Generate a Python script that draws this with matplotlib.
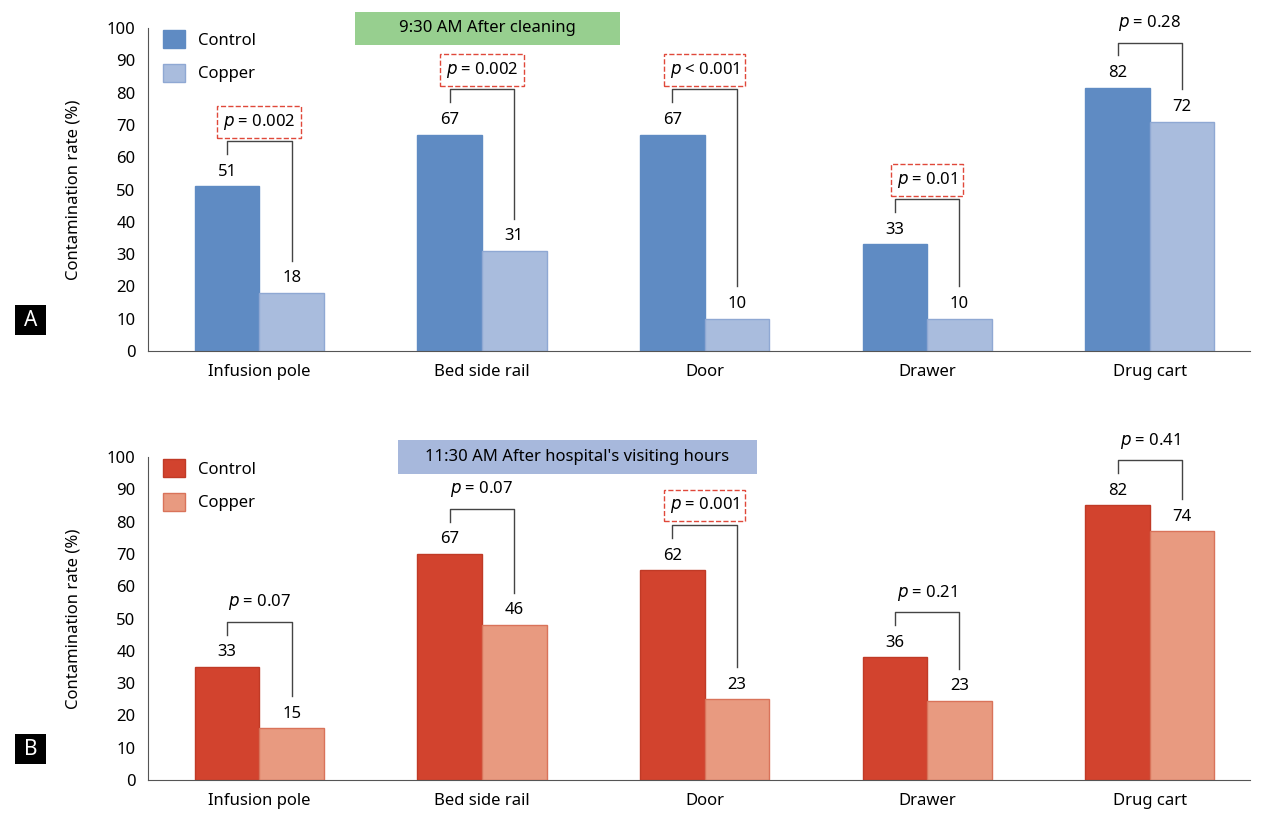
import numpy as np
import matplotlib.pyplot as plt
from matplotlib.patches import Rectangle

plt.rcParams['font.family'] = ['Noto Sans', 'DejaVu Sans']
plt.rcParams['font.size'] = 11.5

sites = ['Infusion pole', 'Bed side rail', 'Door', 'Drawer', 'Drug cart']

# panel A (9:30 AM)
a_control = [51, 67, 67, 33, 81.5]
a_copper = [18, 31, 10, 10, 71]
a_control_lab = ['51', '67', '67', '33', '82']
a_copper_lab = ['18', '31', '10', '10', '72']
a_p = ['= 0.002', '= 0.002', '< 0.001', '= 0.01', '= 0.28']
a_sig = [True, True, True, True, False]

# panel B (11:30 AM) - bar heights as drawn, labels as printed
b_control = [35, 70, 65, 38, 85]
b_copper = [16, 48, 25, 24.5, 77]
b_control_lab = ['33', '67', '62', '36', '82']
b_copper_lab = ['15', '46', '23', '23', '74']
b_p = ['= 0.07', '= 0.07', '= 0.001', '= 0.21', '= 0.41']
b_sig = [False, False, True, False, False]

W, H = 1262, 813
fig = plt.figure(figsize=(W/100, H/100), dpi=100)

def panel(y0px, ctrl, copp, ctrl_lab, copp_lab, pv, sig, c1, c2, e1, e2,
          title, tcol, tbox, letter):
    ax = fig.add_axes([148/W, (H - y0px)/H, 1102/W, 323/H])
    x = np.arange(len(sites))
    w = 0.29
    ax.bar(x - w/2, ctrl, w, color=c1, edgecolor=e1, linewidth=1, label='Control')
    ax.bar(x + w/2, copp, w, color=c2, edgecolor=e2, linewidth=1, label='Copper')
    ax.set_xlim(-0.5, 4.45)
    ax.set_ylim(0, 100)
    ax.set_yticks(range(0, 101, 10))
    ax.set_xticks(x)
    ax.set_xticklabels(sites)
    ax.tick_params(length=0, pad=9, labelsize=12)
    for s in ['top', 'right']:
        ax.spines[s].set_visible(False)
    ax.spines['left'].set_color('#555555')
    ax.spines['bottom'].set_color('#555555')
    ax.set_ylabel('Contamination rate (%)', labelpad=18, fontsize=12)
    for i in range(len(sites)):
        ax.text(x[i] - w/2, ctrl[i] + 4.5, ctrl_lab[i], ha='center', va='center', fontsize=12)
        ax.text(x[i] + w/2, copp[i] + 4.5, copp_lab[i], ha='center', va='center', fontsize=12)
        top = ctrl[i] + 14
        ax.plot([x[i] - w/2, x[i] - w/2, x[i] + w/2, x[i] + w/2],
                [ctrl[i] + 10, top, top, copp[i] + 10], color='#444444', lw=1)
        bbox = None
        if sig[i]:
            bbox = dict(boxstyle='square,pad=0.35', fc='white', ec='#e0483a', ls='--', lw=1)
        ax.text(x[i], top + 6, r'$\it{p}$ ' + pv[i], ha='center', va='center',
                fontsize=12, bbox=bbox)
    ax.legend(loc='upper left', bbox_to_anchor=(0.0, 1.04), frameon=False,
              handlelength=1.3, handleheight=1.3, labelspacing=0.9, fontsize=12)
    tx0, ty0, tx1, ty1 = tbox
    fig.patches.append(Rectangle((tx0/W, 1 - ty1/H), (tx1 - tx0)/W, (ty1 - ty0)/H,
                                 transform=fig.transFigure, fc=tcol, ec='none'))
    fig.text((tx0 + tx1)/2/W, 1 - (ty0 + ty1)/2/H, title, ha='center', va='center', fontsize=12)
    ly = y0px - 31
    fig.patches.append(Rectangle((15/W, 1 - (ly + 15)/H), 31/W, 30/H,
                                 transform=fig.transFigure, fc='black', ec='none'))
    fig.text(30.5/W, 1 - ly/H, letter, ha='center', va='center', color='white',
             fontsize=15, fontweight='bold')
    return ax

panel(351, a_control, a_copper, a_control_lab, a_copper_lab, a_p, a_sig,
      '#5F8BC3', '#A9BCDD', '#5F8BC3', '#8FA8D3',
      '9:30 AM After cleaning', '#97CF8F', (355, 12, 620, 45), 'A')
panel(780, b_control, b_copper, b_control_lab, b_copper_lab, b_p, b_sig,
      '#D2432E', '#E89A80', '#C03A26', '#D9735A',
      "11:30 AM After hospital's visiting hours", '#A7B8DC', (398, 440, 757, 474), 'B')

fig.savefig('out.png', dpi=100)
